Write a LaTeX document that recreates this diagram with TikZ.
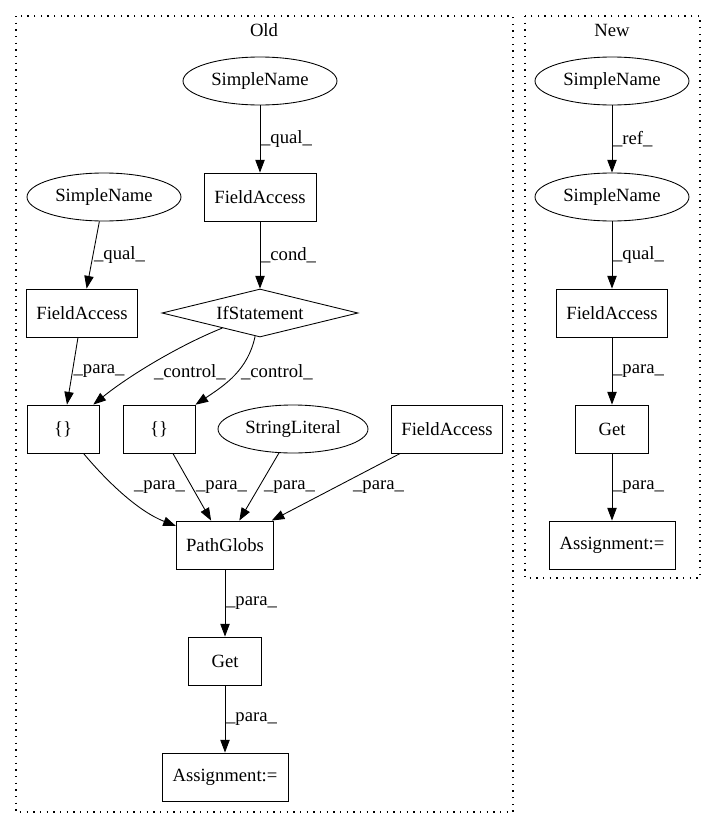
\documentclass[tikz,border=0pt]{standalone}
\usepackage{fontspec}
\setmainfont{Liberation Serif}
\usetikzlibrary{shapes.geometric,arrows.meta}

\begin{document}
\begin{tikzpicture}[x=0.75pt,y=-0.75pt]
  \tikzset{
    txtfont/.style={font=\fontsize{14}{16}\selectfont},
    boxstyle/.style={draw, rectangle, line width=0.65pt, minimum height=36pt, inner sep=0pt, txtfont},
    ellstyle/.style={draw, ellipse, line width=0.65pt, minimum width=115.5pt, minimum height=36pt, inner sep=0pt, txtfont},
    diastyle/.style={draw, diamond, shape aspect=4, line width=0.65pt, minimum width=147pt, minimum height=36pt, inner sep=0pt, txtfont},
    edgestyle/.style={-{Triangle[length=9.5pt,width=7pt]}, line width=0.65pt},
    lblstyle/.style={anchor=west, inner sep=0.5pt, txtfont},
    clusterstyle/.style={line width=0.9pt, dash pattern=on 1pt off 4pt}
  }
  \useasboundingbox (0,0) rectangle (716,828);

  % The two clusters
  \draw[clusterstyle] (16,16) rectangle (513,812);
  \draw[clusterstyle] (525,16) rectangle (700,578);
  \node[txtfont] (oldtitle) at (264,30) {Old};
  \node[txtfont] (newtitle) at (612,30) {New};

  % Old
  \node[ellstyle] (oldsn) at (260,81) {SimpleName};
  \node[boxstyle, minimum width=84pt] (oldfa) at (260,197) {FieldAccess};
  \node[ellstyle] (oldsnb) at (104,197) {SimpleName};
  \node[boxstyle, minimum width=83pt] (oldfab) at (82,313) {FieldAccess};
  \node[diastyle] (oldif) at (260,313) {IfStatement};
  \node[boxstyle, minimum width=54pt] (oldbra) at (63,429) {\{\}};
  \node[boxstyle, minimum width=54pt] (oldbrb) at (159,429) {\{\}};
  \node[ellstyle, minimum width=112.5pt] (oldstr) at (293,429) {StringLiteral};
  \node[boxstyle, minimum width=83pt] (oldfac) at (447,429) {FieldAccess};
  \node[boxstyle, minimum width=73pt] (oldglobs) at (225,545) {PathGlobs};
  \node[boxstyle, minimum width=55pt] (oldget) at (225,661) {Get};
  \node[boxstyle, minimum width=94.5pt] (oldassign) at (225,777) {Assignment:=};

  \draw[edgestyle] (oldsn) -- (oldfa) node[lblstyle, pos=0.5] {\_qual\_};
  \draw[edgestyle] (oldsnb) -- (oldfab) node[lblstyle, pos=0.5] {\_qual\_};
  \draw[edgestyle] (oldfa) -- (oldif) node[lblstyle, pos=0.5] {\_cond\_};
  \draw[edgestyle] (oldfab) -- (oldbra) node[lblstyle, pos=0.5] {\_para\_};
  \draw[edgestyle] (oldif) .. controls (180,345) and (130,375) .. (oldbra)
    node[lblstyle, at={(153,372)}] {\_control\_};
  \draw[edgestyle] (oldif) .. controls (248,370) and (225,385) .. (oldbrb)
    node[lblstyle, at={(240,372)}] {\_control\_};
  \draw[edgestyle] (oldbra) .. controls (110,485) and (140,512) .. (oldglobs)
    node[lblstyle, at={(133,487)}] {\_para\_};
  \draw[edgestyle] (oldbrb) -- (oldglobs) node[lblstyle, at={(195,487)}] {\_para\_};
  \draw[edgestyle] (oldstr) -- (oldglobs) node[lblstyle, at={(263,487)}] {\_para\_};
  \draw[edgestyle] (oldfac) -- (oldglobs) node[lblstyle, at={(352,487)}] {\_para\_};
  \draw[edgestyle] (oldglobs) -- (oldget) node[lblstyle, pos=0.5] {\_para\_};
  \draw[edgestyle] (oldget) -- (oldassign) node[lblstyle, pos=0.5] {\_para\_};

  % New
  \node[ellstyle] (newsn) at (612,81) {SimpleName};
  \node[ellstyle] (newsnb) at (612,197) {SimpleName};
  \node[boxstyle, minimum width=83pt] (newfa) at (612,313) {FieldAccess};
  \node[boxstyle, minimum width=55pt] (newget) at (612,429) {Get};
  \node[boxstyle, minimum width=94.5pt] (newassign) at (612,545) {Assignment:=};

  \draw[edgestyle] (newsn) -- (newsnb) node[lblstyle, pos=0.5] {\_ref\_};
  \draw[edgestyle] (newsnb) -- (newfa) node[lblstyle, pos=0.5] {\_qual\_};
  \draw[edgestyle] (newfa) -- (newget) node[lblstyle, pos=0.5] {\_para\_};
  \draw[edgestyle] (newget) -- (newassign) node[lblstyle, pos=0.5] {\_para\_};
\end{tikzpicture}
\end{document}
